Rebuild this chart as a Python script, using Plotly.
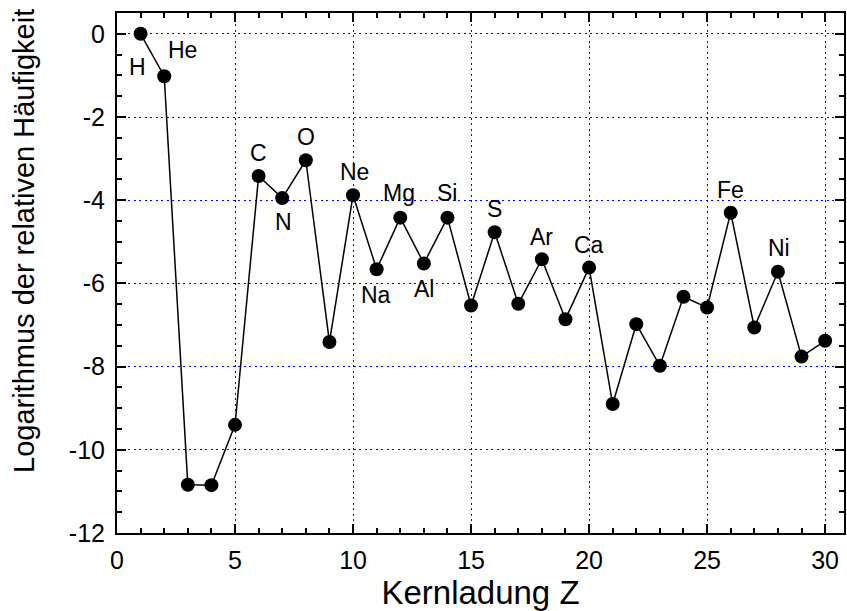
import plotly.graph_objects as go

Z = list(range(1, 31))
log_abund = [0.0, -1.02, -10.84, -10.85, -9.40, -3.42, -3.95, -3.04, -7.41, -3.88,
             -5.66, -4.42, -5.52, -4.42, -6.53, -4.77, -6.49, -5.42, -6.86, -5.62,
             -8.90, -6.98, -7.98, -6.32, -6.58, -4.30, -7.06, -5.72, -7.76, -7.38]

label_names = ["H", "He", "C", "N", "O", "Ne", "Na", "Mg", "Al", "Si", "S", "Ar", "Ca", "Fe", "Ni"]
label_z = [1, 2, 6, 7, 8, 10, 11, 12, 13, 14, 16, 18, 20, 26, 28]
label_dx = [-3, 18, 0, 1, 0, 1, -1, -1, 0, 0, 0, 0, 0, 0, 1]
label_dy = [-33, 26, 23, -24, 23, 23, -26, 25, -26, 25, 23, 22, 23, 23, 24]

y_tickvals = [0, -2, -4, -6, -8, -10, -12]
y_ticktext = ["0", "-2", "-4", "-6", "-8", "-10", "-12"]
x_tickvals = [0, 5, 10, 15, 20, 25, 30]
x_ticktext = ["0", "5", "10", "15", "20", "25", "30"]

FONT = "Liberation Sans, Arial, sans-serif"

fig = go.Figure()
fig.add_trace(go.Scatter(
    x=Z, y=log_abund, mode="lines+markers",
    line=dict(color="black", width=1.5),
    marker=dict(color="black", size=14),
    showlegend=False, cliponaxis=False,
))

for name, z, dx, dy in zip(label_names, label_z, label_dx, label_dy):
    fig.add_annotation(x=z, y=log_abund[z - 1], text=name, showarrow=False,
                       xshift=dx, yshift=dy,
                       font=dict(family=FONT, size=23, color="black"))

# y-axis title placed as annotation so it can sit slightly above the plot centre
fig.add_annotation(xref="paper", yref="paper", x=0, y=0.5, xanchor="center", yanchor="middle",
                   xshift=-93, yshift=32, textangle=-90, showarrow=False,
                   text="Logarithmus der relativen Häufigkeit",
                   font=dict(family=FONT, size=29, color="black"))

axis_common = dict(
    showline=True, linecolor="black", linewidth=2, mirror="allticks",
    ticks="inside", ticklen=9, tickwidth=2, tickcolor="black",
    showgrid=True, gridcolor="#0000ff", griddash="2px,3.5px", gridwidth=1,
    zeroline=False,
    tickfont=dict(family=FONT, size=25, color="black"),
)

fig.update_xaxes(range=[0, 30.8], tickmode="array", tickvals=x_tickvals, ticktext=x_ticktext,
                 minor=dict(dtick=1, tick0=0, ticks="inside", ticklen=5, tickwidth=1.5, tickcolor="black", showgrid=False),
                 ticklabelstandoff=4,
                 title=dict(text="Kernladung Z", standoff=8,
                            font=dict(family=FONT, size=33, color="black")),
                 **axis_common)
fig.update_yaxes(range=[-12, 0.5], tickmode="array", tickvals=y_tickvals, ticktext=y_ticktext,
                 minor=dict(dtick=0.5, tick0=0, ticks="inside", ticklen=5, tickwidth=1.5, tickcolor="black", showgrid=False),
                 ticklabelstandoff=5,
                 **axis_common)

fig.update_layout(
    width=847, height=611,
    margin=dict(l=117, r=1, t=13, b=78),
    plot_bgcolor="white", paper_bgcolor="white",
)

fig.write_html("out.html")
